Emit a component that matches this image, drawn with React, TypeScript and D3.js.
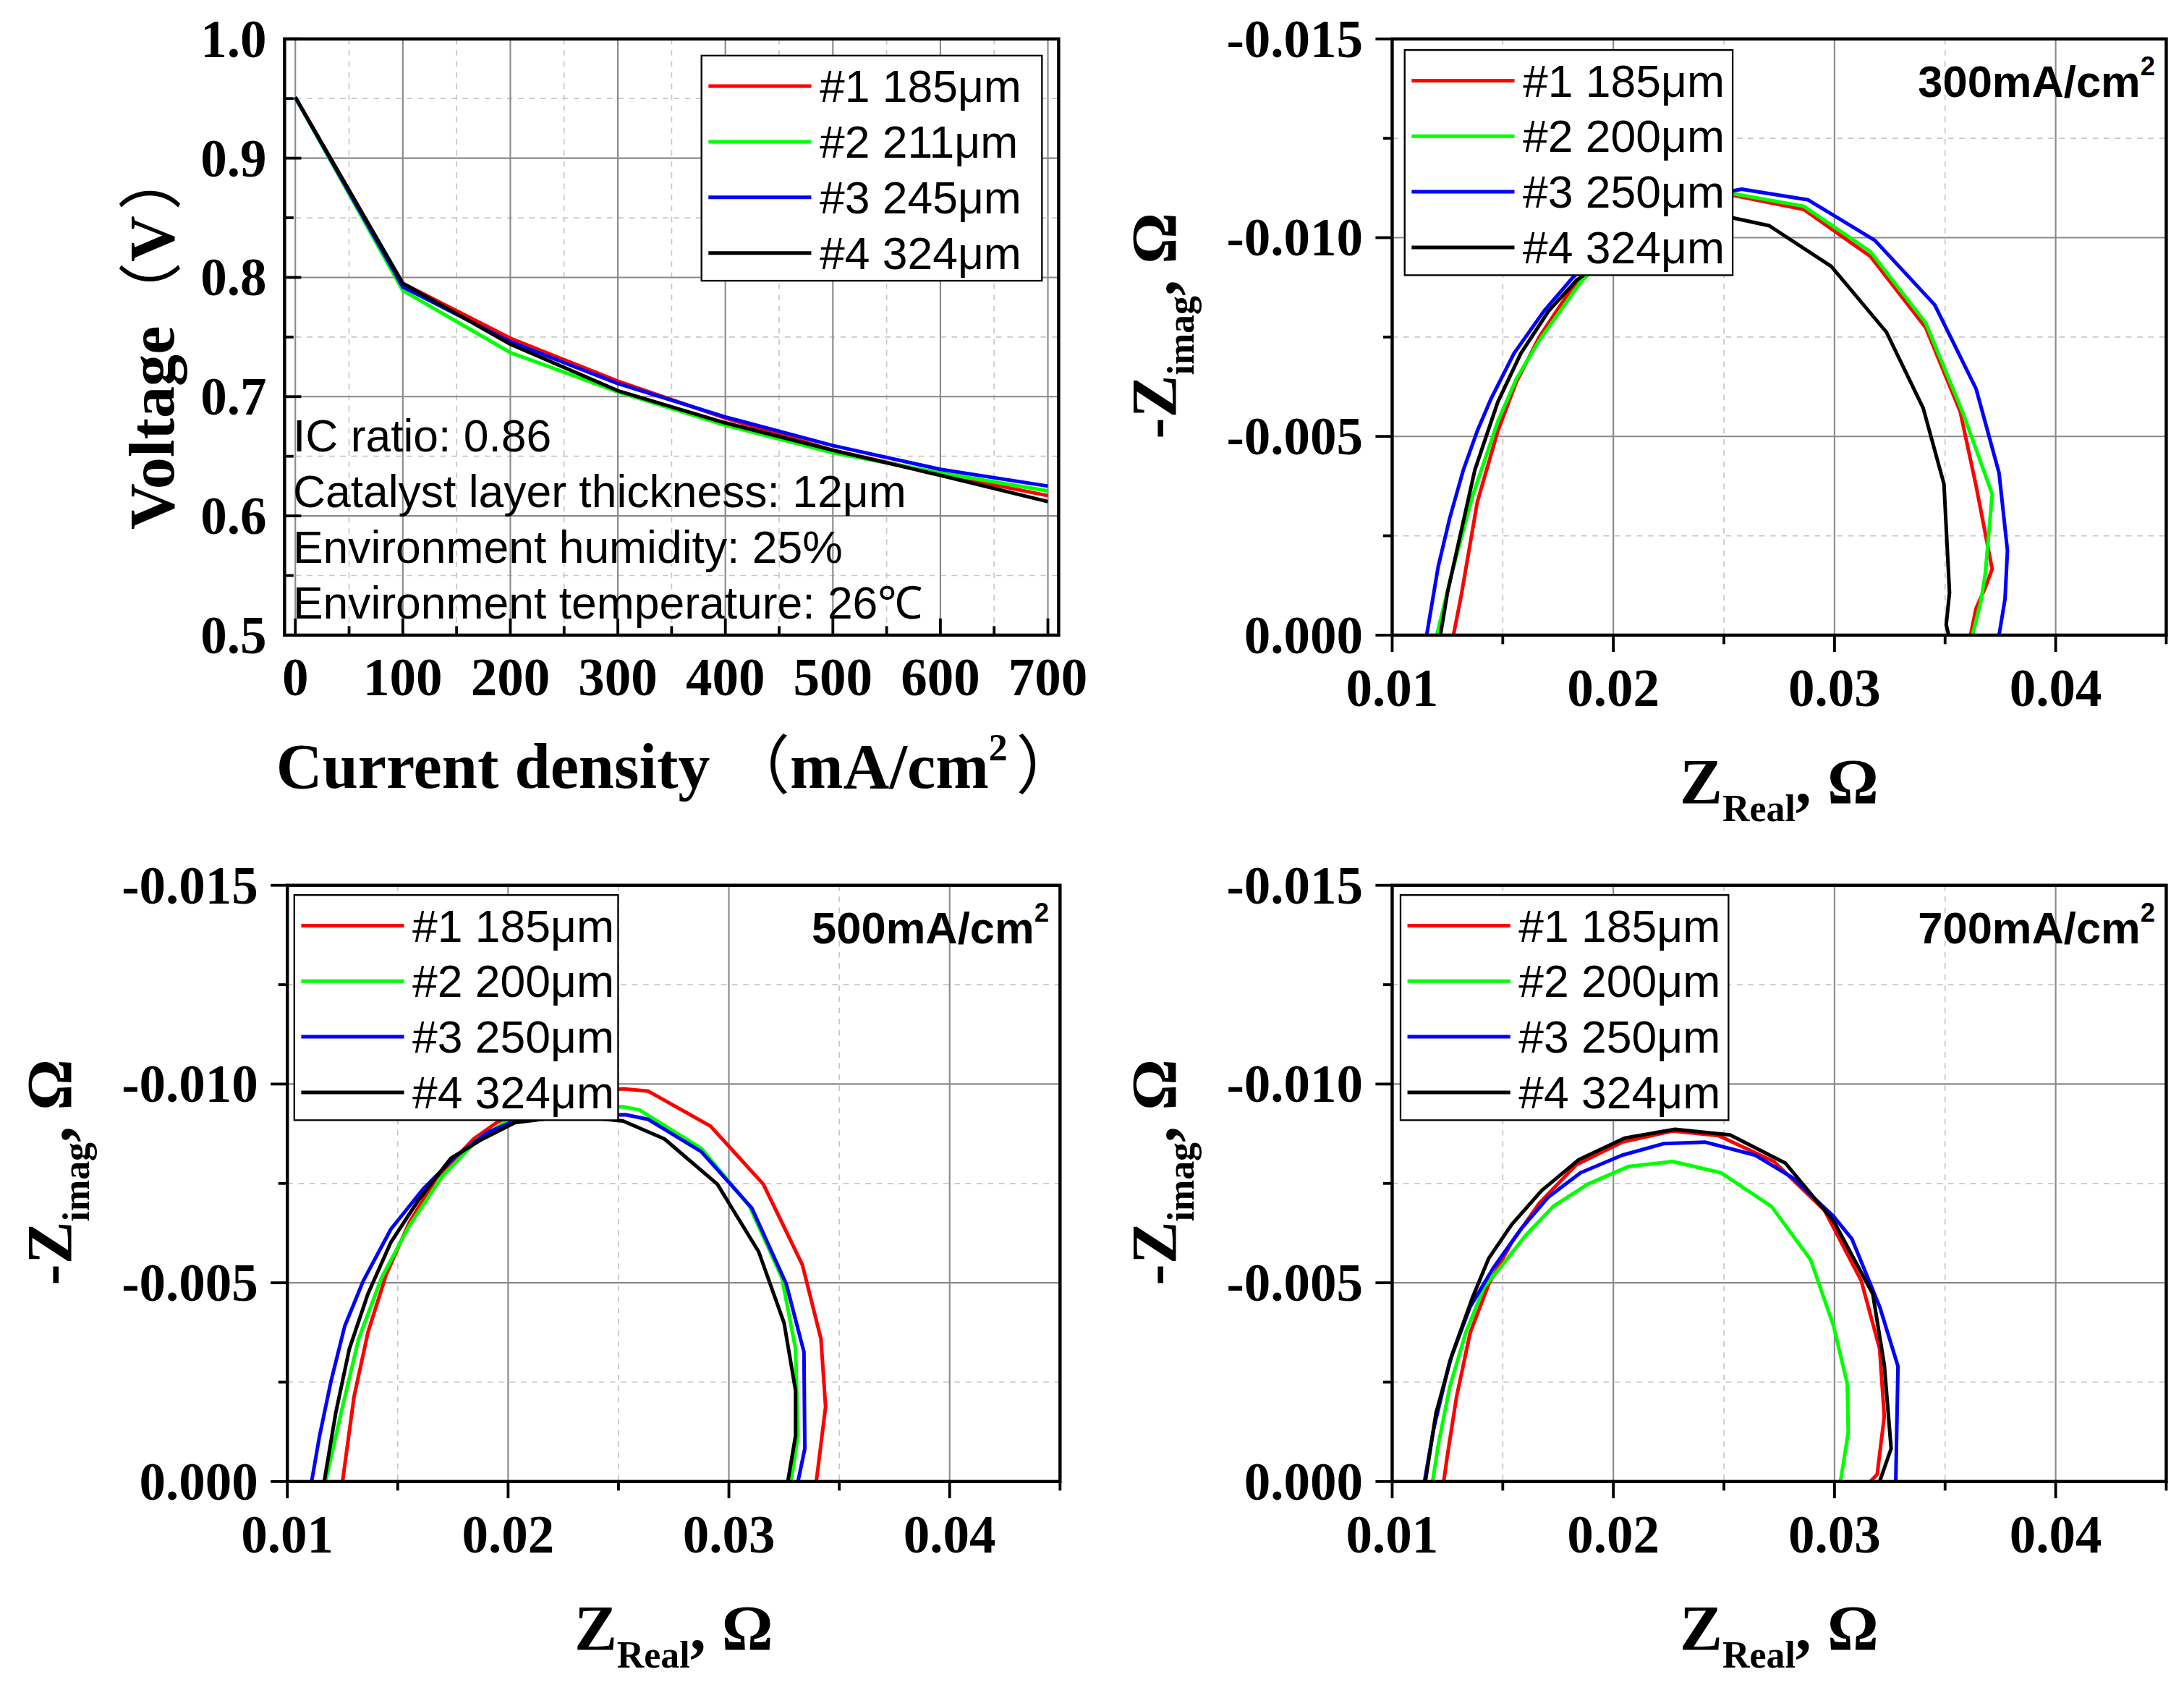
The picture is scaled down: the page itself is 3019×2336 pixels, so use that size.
import React from 'react';
import * as d3 from 'd3';

// ---- data ----
const currentDensity = [0, 100, 200, 300, 400, 500, 600, 700];
const voltage185 = [0.951, 0.795, 0.749, 0.713, 0.682, 0.655, 0.635, 0.617];
const voltage211 = [0.951, 0.789, 0.737, 0.704, 0.676, 0.653, 0.636, 0.621];
const voltage245 = [0.951, 0.792, 0.746, 0.711, 0.683, 0.659, 0.639, 0.625];
const voltage324 = [0.951, 0.795, 0.744, 0.705, 0.678, 0.655, 0.634, 0.612];

// Nyquist points [Z_real, Z_imag] at 300 mA/cm2
const eis300_185 = [[0.01277, 0], [0.01312, -0.00099], [0.01385, -0.00335], [0.01478, -0.00514], [0.01561, -0.00636], [0.01665, -0.0075], [0.01811, -0.00872], [0.02, -0.0098], [0.0225, -0.0107], [0.02538, -0.01107], [0.02861, -0.01071], [0.03162, -0.00953], [0.03412, -0.00774], [0.03568, -0.00563], [0.0364, -0.00376], [0.03713, -0.00166], [0.03682, -0.0012], [0.0364, -0.00067], [0.03615, 0]];
const eis300_200 = [[0.01202, 0], [0.0127, -0.00156], [0.01364, -0.00351], [0.01478, -0.00538], [0.01561, -0.00644], [0.01665, -0.00741], [0.01852, -0.00888], [0.0205, -0.01], [0.0228, -0.0108], [0.02538, -0.01111], [0.02861, -0.01079], [0.03162, -0.00965], [0.03412, -0.00786], [0.03578, -0.00563], [0.03713, -0.00355], [0.03682, -0.00156], [0.03661, -0.00083], [0.03624, 0]];
const eis300_250 = [[0.01156, 0], [0.01208, -0.00172], [0.0126, -0.00294], [0.01322, -0.00416], [0.01385, -0.00514], [0.01447, -0.00595], [0.01551, -0.00709], [0.01686, -0.00815], [0.01811, -0.00896], [0.02, -0.01], [0.0228, -0.0109], [0.0258, -0.01122], [0.02881, -0.01095], [0.03183, -0.00993], [0.03453, -0.00831], [0.0364, -0.0062], [0.03744, -0.00408], [0.03782, -0.00213], [0.03771, -0.00091], [0.03744, 0]];
const eis300_324 = [[0.01218, 0], [0.0125, -0.00107], [0.01312, -0.00262], [0.01374, -0.00416], [0.01478, -0.00587], [0.01582, -0.00709], [0.01707, -0.00815], [0.01832, -0.00892], [0.0205, -0.0098], [0.023, -0.0104], [0.02538, -0.0105], [0.02705, -0.0103], [0.02985, -0.00928], [0.03235, -0.00762], [0.03401, -0.00571], [0.03495, -0.0038], [0.0352, -0.00107], [0.03505, -0.00026], [0.03516, 0]];

// 500 mA/cm2
const eis500_185 = [[0.0125, 0], [0.01302, -0.00213], [0.01365, -0.00375], [0.01448, -0.00521], [0.01552, -0.00651], [0.01677, -0.00765], [0.01844, -0.00862], [0.01948, -0.00903], [0.022, -0.0097], [0.02521, -0.00988], [0.02635, -0.00982], [0.02917, -0.00894], [0.03156, -0.00748], [0.03333, -0.00545], [0.03417, -0.00359], [0.03438, -0.00188], [0.03396, 0]];
const eis500_200 = [[0.01173, 0], [0.0125, -0.00188], [0.01323, -0.00359], [0.01427, -0.00513], [0.01552, -0.00643], [0.01698, -0.00765], [0.01865, -0.00862], [0.0201, -0.00911], [0.0228, -0.0094], [0.02521, -0.00943], [0.02594, -0.00935], [0.02875, -0.00838], [0.03094, -0.00692], [0.0324, -0.00513], [0.03302, -0.00334], [0.03313, -0.00115], [0.03281, 0]];
const eis500_250 = [[0.0111, 0], [0.01146, -0.00115], [0.01198, -0.00253], [0.0126, -0.00391], [0.01344, -0.00505], [0.01469, -0.00635], [0.01615, -0.00736], [0.0176, -0.00817], [0.01906, -0.00878], [0.0201, -0.00903], [0.0228, -0.0092], [0.02531, -0.00923], [0.02635, -0.00911], [0.02875, -0.0083], [0.03104, -0.00688], [0.0326, -0.00497], [0.0334, -0.00326], [0.03344, -0.00083], [0.03313, 0]];
const eis500_324 = [[0.01167, 0], [0.01219, -0.00172], [0.01281, -0.00334], [0.01365, -0.00472], [0.01469, -0.00602], [0.01594, -0.00708], [0.0174, -0.00813], [0.01885, -0.00862], [0.02031, -0.00903], [0.0228, -0.0092], [0.02521, -0.00907], [0.02708, -0.00862], [0.02948, -0.00748], [0.03135, -0.00578], [0.0325, -0.00399], [0.03302, -0.00229], [0.03302, -0.00115], [0.03267, 0]];

// 700 mA/cm2
const eis700_185 = [[0.01233, 0], [0.0125, -0.00067], [0.01291, -0.00213], [0.01353, -0.00375], [0.01437, -0.00497], [0.01541, -0.00602], [0.01665, -0.007], [0.01832, -0.00797], [0.0204, -0.00854], [0.02268, -0.00882], [0.02476, -0.0087], [0.02726, -0.00805], [0.02954, -0.00683], [0.03121, -0.00505], [0.03204, -0.00334], [0.03225, -0.00164], [0.03193, -0.00018], [0.03162, 0]];
const eis700_200 = [[0.01183, 0], [0.01208, -0.00091], [0.0126, -0.00237], [0.01333, -0.00375], [0.01416, -0.00489], [0.01499, -0.00545], [0.01603, -0.00619], [0.01728, -0.00692], [0.01884, -0.00748], [0.02071, -0.00793], [0.02268, -0.00805], [0.02486, -0.00777], [0.02715, -0.00692], [0.02892, -0.00558], [0.02996, -0.00391], [0.03058, -0.00245], [0.03062, -0.00123], [0.03027, 0]];
const eis700_250 = [[0.01146, 0], [0.01187, -0.00131], [0.0126, -0.00302], [0.01353, -0.0044], [0.01457, -0.00537], [0.01582, -0.00635], [0.01707, -0.00716], [0.01852, -0.00777], [0.0204, -0.00821], [0.02227, -0.0085], [0.02414, -0.00854], [0.02642, -0.00821], [0.02809, -0.00765], [0.02996, -0.00667], [0.03079, -0.0061], [0.03204, -0.0044], [0.03287, -0.0029], [0.03277, 0]];
const eis700_324 = [[0.0115, 0], [0.01198, -0.00172], [0.0127, -0.00318], [0.01364, -0.00464], [0.01437, -0.00562], [0.01541, -0.00647], [0.01676, -0.00732], [0.01842, -0.00809], [0.0205, -0.00864], [0.02279, -0.00886], [0.02528, -0.00872], [0.02778, -0.00801], [0.02996, -0.00655], [0.03173, -0.00472], [0.03225, -0.00294], [0.03256, -0.00083], [0.03204, 0]];

const seriesColors = ['#ff0000', '#00ff00', '#0000ff', '#000000'];
const polarizationLegend = ['#1 185μm', '#2 211μm', '#3 245μm', '#4 324μm'];
const eisLegend = ['#1 185μm', '#2 200μm', '#3 250μm', '#4 324μm'];
const conditionNotes = ['IC ratio: 0.86', 'Catalyst layer thickness: 12μm', 'Environment humidity: 25%', 'Environment temperature: 26℃'];

const voltageMajor = [0.5, 0.6, 0.7, 0.8, 0.9, 1.0];
const voltageMinor = [0.55, 0.65, 0.75, 0.85, 0.95];
const currentMajor = [0, 100, 200, 300, 400, 500, 600, 700];
const currentMinor = [50, 150, 250, 350, 450, 550, 650];
const zRealMajor = [0.01, 0.02, 0.03, 0.04];
const zRealMinor = [0.015, 0.025, 0.035, 0.045];
const zImagMajor = [0, -0.005, -0.01, -0.015];
const zImagMinor = [-0.0025, -0.0075, -0.0125];

const SERIF = '"Liberation Serif", "Times New Roman", serif';
const SANS = '"Liberation Sans", Arial, sans-serif';
const CJK = '"Noto Sans CJK SC", sans-serif';

type Box = { left: number; right: number; top: number; bottom: number };
type Scale = d3.ScaleLinear<number, number>;

const AxesFrame = ({ box, x, y, xMajor, xMinor, yMajor, yMinor, dir, xFmt, yFmt, yLabelX, xLabelDy }: {
  box: Box; x: Scale; y: Scale; xMajor: number[]; xMinor: number[]; yMajor: number[]; yMinor: number[];
  dir: 1 | -1; xFmt: (v: number) => string; yFmt: (v: number) => string; yLabelX: number; xLabelDy: number;
}) => {
  // dir = 1 -> ticks point outward, -1 -> inward
  const major = 12, minor = 6.5;
  return (
    <g>
      {xMinor.map(v => <line key={'gxm' + v} x1={x(v)} x2={x(v)} y1={box.top} y2={box.bottom} stroke="#c8c8c8" strokeWidth={0.9} strokeDasharray="4,4" />)}
      {yMinor.map(v => <line key={'gym' + v} y1={y(v)} y2={y(v)} x1={box.left} x2={box.right} stroke="#c8c8c8" strokeWidth={0.9} strokeDasharray="4,4" />)}
      {xMajor.map(v => <line key={'gx' + v} x1={x(v)} x2={x(v)} y1={box.top} y2={box.bottom} stroke="#8a8a8a" strokeWidth={1.1} />)}
      {yMajor.map(v => <line key={'gy' + v} y1={y(v)} y2={y(v)} x1={box.left} x2={box.right} stroke="#8a8a8a" strokeWidth={1.1} />)}
      {xMajor.map(v => <line key={'tx' + v} x1={x(v)} x2={x(v)} y1={box.bottom} y2={box.bottom + dir * major} stroke="#000" strokeWidth={2} />)}
      {xMinor.map(v => <line key={'txm' + v} x1={x(v)} x2={x(v)} y1={box.bottom} y2={box.bottom + dir * minor} stroke="#000" strokeWidth={2} />)}
      {yMajor.map(v => <line key={'ty' + v} y1={y(v)} y2={y(v)} x1={box.left} x2={box.left - dir * major} stroke="#000" strokeWidth={2} />)}
      {yMinor.map(v => <line key={'tym' + v} y1={y(v)} y2={y(v)} x1={box.left} x2={box.left - dir * minor} stroke="#000" strokeWidth={2} />)}
      {xMajor.map(v => (
        <text key={'lx' + v} x={x(v)} y={box.bottom + xLabelDy} textAnchor="middle" fontFamily={SERIF} fontWeight="bold" fontSize={38}>{xFmt(v)}</text>
      ))}
      {yMajor.map(v => (
        <text key={'ly' + v} x={yLabelX} y={y(v) + 13} textAnchor="end" fontFamily={SERIF} fontWeight="bold" fontSize={38}>{yFmt(v)}</text>
      ))}
    </g>
  );
};

const BoxOutline = ({ box }: { box: Box }) => (
  <rect x={box.left} y={box.top} width={box.right - box.left} height={box.bottom - box.top} fill="none" stroke="#000" strokeWidth={2.3} />
);

const Legend = ({ x, y, w, labels }: { x: number; y: number; w: number; labels: string[] }) => (
  <g>
    <rect x={x} y={y} width={w} height={162} fill="#fff" stroke="#000" strokeWidth={1.2} />
    {labels.map((t, i) => {
      const cy = y + 22 + i * 40;
      return (
        <g key={t}>
          <line x1={x + 5} x2={x + 79} y1={cy} y2={cy} stroke={seriesColors[i]} strokeWidth={2.6} />
          <text x={x + 85} y={cy + 11.5} fontFamily={SANS} fontSize={32.5}>{t}</text>
        </g>
      );
    })}
  </g>
);

const EisPanel = ({ box, series, tag, legendX, legendY, legendW }: {
  box: Box; series: number[][][]; tag: string; legendX: number; legendY: number; legendW: number;
}) => {
  const x = d3.scaleLinear().domain([0.01, 0.045]).range([box.left, box.right]);
  const y = d3.scaleLinear().domain([0, -0.015]).range([box.bottom, box.top]);
  const line = d3.line<number[]>().x(d => x(d[0])).y(d => y(d[1]));
  const cx = (box.left + box.right) / 2;
  const cy = (box.top + box.bottom) / 2;
  return (
    <g>
      <AxesFrame box={box} x={x} y={y} xMajor={zRealMajor} xMinor={zRealMinor} yMajor={zImagMajor} yMinor={zImagMinor}
        dir={1} xFmt={v => v.toFixed(2)} yFmt={v => v.toFixed(3)} yLabelX={box.left - 21} xLabelDy={51} />
      {series.map((s, i) => (
        <path key={i} d={line(s) || ''} fill="none" stroke={seriesColors[i]} strokeWidth={2.6} strokeLinejoin="round" />
      ))}
      <Legend x={legendX} y={legendY} w={legendW} labels={eisLegend} />
      <BoxOutline box={box} />
      <text x={box.right - 8} y={box.top + 42} textAnchor="end" fontFamily={SANS} fontWeight="bold" fontSize={32}>
        {tag}<tspan dy={-16} fontSize={19}>2</tspan>
      </text>
      <text x={cx} y={box.bottom + 121} textAnchor="middle" fontFamily={SERIF} fontWeight="bold" fontSize={46}>
        Z<tspan dy={13} fontSize={27}>Real</tspan><tspan dy={-13}>, Ω</tspan>
      </text>
      <text transform={`translate(${box.left - 156},${cy - 8}) rotate(-90)`} textAnchor="middle" fontFamily={SERIF} fontWeight="bold" fontSize={46}>
        -Z<tspan dy={13} fontSize={27}>imag</tspan><tspan dy={-13}>, Ω</tspan>
      </text>
    </g>
  );
};

const PolarizationPanel = ({ box }: { box: Box }) => {
  const x = d3.scaleLinear().domain([-10, 710]).range([box.left, box.right]);
  const y = d3.scaleLinear().domain([0.5, 1.0]).range([box.bottom, box.top]);
  const curves = [voltage185, voltage211, voltage245, voltage324];
  const line = d3.line<number>().x((_, i) => x(currentDensity[i])).y(d => y(d));
  return (
    <g>
      <AxesFrame box={box} x={x} y={y} xMajor={currentMajor} xMinor={currentMinor} yMajor={voltageMajor} yMinor={voltageMinor}
        dir={-1} xFmt={v => String(v)} yFmt={v => v.toFixed(1)} yLabelX={box.left - 13} xLabelDy={43} />
      {curves.map((c, i) => (
        <path key={i} d={line(c) || ''} fill="none" stroke={seriesColors[i]} strokeWidth={2.6} strokeLinejoin="round" />
      ))}
      {conditionNotes.map((t, i) => (
        <text key={t} x={box.left + 6} y={box.top + 297 + i * 40} fontFamily={SANS} fontSize={32.5}>{t}</text>
      ))}
      <Legend x={503} y={40} w={245} labels={polarizationLegend} />
      <BoxOutline box={box} />
      <text x={197} y={567} textAnchor="start" fontFamily={SERIF} fontWeight="bold" fontSize={46}>
        Current density <tspan fontFamily={CJK} fontWeight="normal">（</tspan>mA/cm<tspan dy={-20} fontSize={27}>2</tspan>
        <tspan dy={20} dx={6} fontFamily={CJK} fontWeight="normal">）</tspan>
      </text>
      <text transform="translate(123,381) rotate(-90)" textAnchor="start" fontFamily={SERIF} fontWeight="bold" fontSize={46}>
        Voltage<tspan fontFamily={CJK} fontWeight="normal">（</tspan>V<tspan dx={4} fontFamily={CJK} fontWeight="normal">）</tspan>
      </text>
    </g>
  );
};

export default function App() {
  return (
    <svg width={3019} height={2336} viewBox="0 0 1568 1216" style={{ position: 'absolute', left: 0, top: 0, display: 'block' }}>
      <rect x={0} y={0} width={1568} height={1216} fill="#fff" />
      <PolarizationPanel box={{ left: 203, right: 760, top: 28, bottom: 457 }} />
      <EisPanel box={{ left: 1000, right: 1557, top: 28, bottom: 457 }} series={[eis300_185, eis300_200, eis300_250, eis300_324]}
        tag="300mA/cm" legendX={1009} legendY={36} legendW={236} />
      <EisPanel box={{ left: 205, right: 761, top: 637, bottom: 1066 }} series={[eis500_185, eis500_200, eis500_250, eis500_324]}
        tag="500mA/cm" legendX={210} legendY={644} legendW={233} />
      <EisPanel box={{ left: 1000, right: 1557, top: 637, bottom: 1066 }} series={[eis700_185, eis700_200, eis700_250, eis700_324]}
        tag="700mA/cm" legendX={1006} legendY={644} legendW={236} />
    </svg>
  );
}
